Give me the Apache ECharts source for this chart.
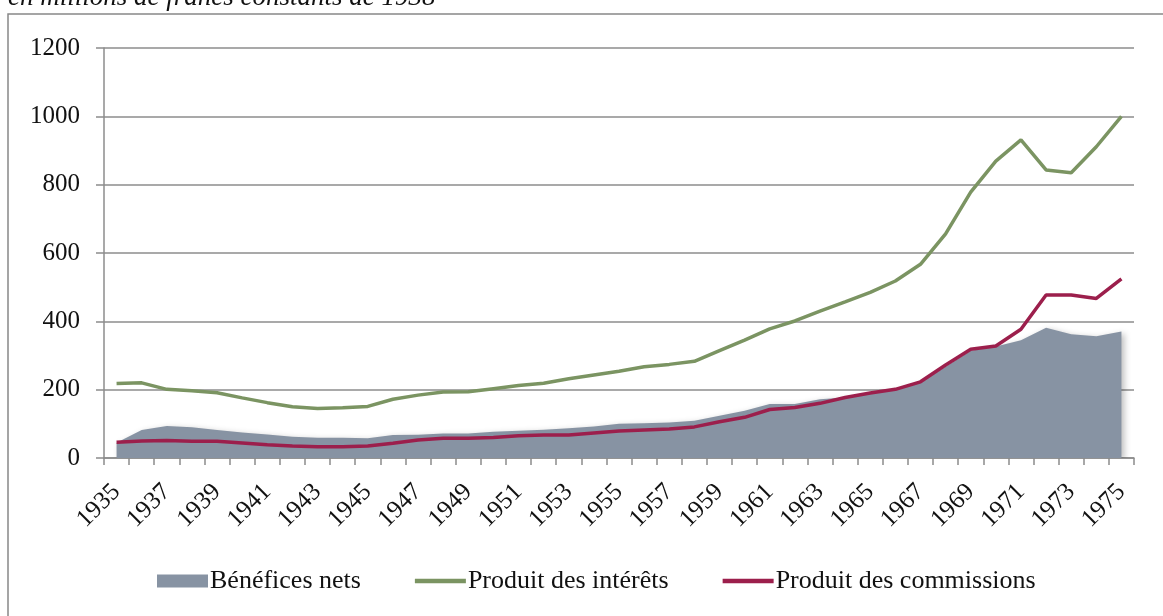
<!DOCTYPE html>
<html>
<head>
<meta charset="utf-8">
<script src="https://cdn.jsdelivr.net/npm/echarts@6/dist/echarts.min.js"></script>
<style>
  html, body { margin: 0; padding: 0; background: #fff; }
  #chart { width: 1163px; height: 616px; }
</style>
</head>
<body>
<div id="chart"></div>
<script>
var years = ['1935','1936','1937','1938','1939','1940','1941','1942','1943','1944',
  '1945','1946','1947','1948','1949','1950','1951','1952','1953','1954',
  '1955','1956','1957','1958','1959','1960','1961','1962','1963','1964',
  '1965','1966','1967','1968','1969','1970','1971','1972','1973','1974','1975'];

// Bénéfices nets
var benefices = [45, 82, 94, 90, 82, 75, 69, 62, 59, 59,
  58, 67, 68, 72, 72, 77, 80, 83, 87, 92,
  100, 102, 104, 109, 124, 138, 158, 158, 172, 177,
  190, 201, 220, 267, 314, 326, 345, 381, 362, 356, 370];

// Produit des intérêts
var interets = [218, 220, 201, 197, 191, 176, 162, 150, 145, 147,
  151, 172, 184, 193, 194, 203, 212, 219, 232, 243,
  254, 267, 274, 283, 314, 345, 378, 401, 430, 457,
  485, 518, 567, 656, 778, 869, 931, 843, 835, 911, 1000];

// Produit des commissions
var commissions = [46, 50, 51, 49, 49, 44, 39, 35, 33, 33,
  35, 43, 53, 58, 58, 60, 65, 67, 67, 73,
  79, 82, 85, 91, 106, 119, 142, 148, 160, 177,
  190, 201, 223, 272, 318, 328, 377, 477, 477, 467, 524];

var serif = '"Liberation Serif", "DejaVu Serif", serif';
var axisGray = '#8c8c8c';
var lineIcon = 'path://M0,0 L52,0 L52,4.5 L0,4.5 Z';

var chart = echarts.init(document.getElementById('chart'));
chart.setOption({
  animation: false,
  backgroundColor: '#fff',
  textStyle: { fontFamily: serif, color: '#111' },
  graphic: [
    {
      type: 'rect',
      shape: { x: 8, y: 14, width: 1200, height: 700 },
      style: { fill: 'none', stroke: '#888', lineWidth: 1.5 },
      silent: true
    },
    {
      type: 'text',
      x: 8, y: 11,
      style: {
        text: 'en millions de francs constants de 1938',
        font: 'italic 27px ' + serif,
        fill: '#111',
        verticalAlign: 'bottom'
      }
    }
  ],
  grid: { left: 104, right: 29, top: 48, bottom: 158 },
  legend: {
    left: 152,
    top: 563,
    itemWidth: 51,
    itemHeight: 13,
    itemGap: 54,
    textStyle: { fontFamily: serif, fontSize: 26, color: '#111', padding: [0, 0, 0, -3] },
    data: [
      { name: 'Bénéfices nets', icon: 'rect' },
      { name: 'Produit des intérêts', icon: lineIcon },
      { name: 'Produit des commissions', icon: lineIcon }
    ]
  },
  xAxis: {
    type: 'category',
    data: years,
    boundaryGap: true,
    axisLine: { lineStyle: { color: axisGray, width: 1.5 } },
    axisTick: { show: true, interval: 0, length: 7, lineStyle: { color: axisGray, width: 1.5 } },
    axisLabel: {
      interval: 1,
      rotate: 45,
      margin: 30,
      fontFamily: serif,
      fontSize: 25,
      color: '#111'
    }
  },
  yAxis: {
    type: 'value',
    min: 0,
    max: 1200,
    interval: 200,
    axisLine: { show: true, lineStyle: { color: axisGray, width: 1.5 } },
    axisTick: { show: true, length: 8, lineStyle: { color: axisGray, width: 1.5 } },
    axisLabel: {
      margin: 24,
      fontFamily: serif,
      fontSize: 25,
      color: '#111',
      formatter: function (v) { return String(v); }
    },
    splitLine: { lineStyle: { color: axisGray, width: 1.5 } }
  },
  series: [
    {
      name: 'Bénéfices nets',
      type: 'line',
      data: benefices,
      symbol: 'none',
      lineStyle: { width: 0 },
      itemStyle: { color: '#8793a3' },
      areaStyle: {
        color: '#8793a3',
        opacity: 1,
        shadowColor: 'rgba(0,0,0,0.25)',
        shadowBlur: 6,
        shadowOffsetX: 3,
        shadowOffsetY: 2
      },
      z: 1
    },
    {
      name: 'Produit des intérêts',
      type: 'line',
      data: interets,
      symbol: 'none',
      lineStyle: { width: 3.5, color: '#7b9462' },
      itemStyle: { color: '#7b9462' },
      z: 3
    },
    {
      name: 'Produit des commissions',
      type: 'line',
      data: commissions,
      symbol: 'none',
      lineStyle: { width: 3.5, color: '#9c1f4c' },
      itemStyle: { color: '#9c1f4c' },
      z: 4
    }
  ]
});
</script>
</body>
</html>
